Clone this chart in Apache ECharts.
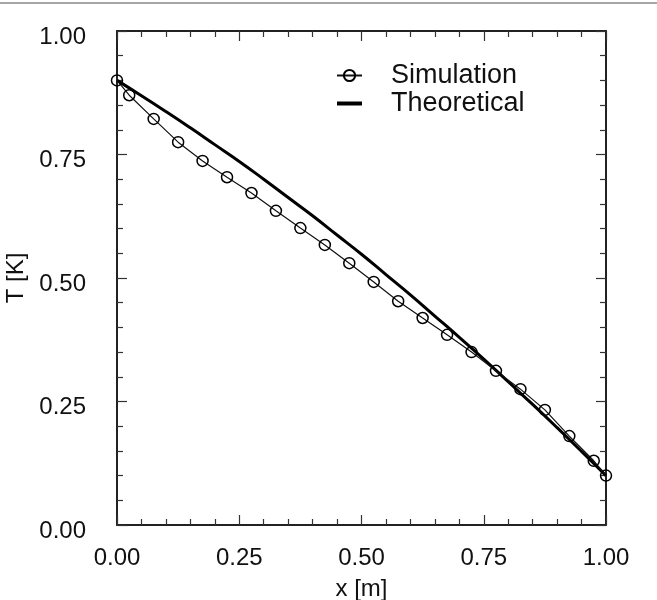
<!DOCTYPE html>
<html>
<head>
<meta charset="utf-8">
<script src="https://cdn.jsdelivr.net/npm/echarts@6/dist/echarts.min.js"></script>
<style>
html, body { margin: 0; padding: 0; background: #fff; }
#chart { width: 657px; height: 600px; }
</style>
</head>
<body>
<div id="chart"></div>
<script>
var myChart = echarts.init(document.getElementById("chart"));

// simulation points
var simX = [0, 0.025, 0.075, 0.125, 0.175, 0.225, 0.275, 0.325, 0.375, 0.425, 0.475,
    0.525, 0.575, 0.625, 0.675, 0.725, 0.775, 0.825, 0.875, 0.925, 0.975, 1];
var simT = [0.900, 0.870, 0.822, 0.775, 0.737, 0.704, 0.672, 0.636, 0.601, 0.567, 0.530,
    0.492, 0.453, 0.419, 0.385, 0.350, 0.312, 0.275, 0.233, 0.180, 0.130, 0.100];

// theoretical curve
var theoX = [0, 0.05, 0.1, 0.15, 0.2, 0.25, 0.3, 0.35, 0.4, 0.45, 0.5,
    0.55, 0.6, 0.65, 0.7, 0.75, 0.8, 0.85, 0.9, 0.95, 1];
var theoT = [0.900, 0.869, 0.837, 0.804, 0.770, 0.736, 0.700, 0.663, 0.626, 0.587, 0.548,
    0.507, 0.466, 0.423, 0.380, 0.336, 0.290, 0.244, 0.197, 0.149, 0.100];

var font = "Arial, 'Liberation Sans', sans-serif";

function pairs(xs, ys) {
    return xs.map(function (x, i) { return [x, ys[i]]; });
}

function axis(extra) {
    var base = {
        type: 'value',
        min: 0,
        max: 1,
        interval: 0.25,
        axisLine: { show: true, onZero: false, lineStyle: { color: '#222', width: 2 } },
        axisTick: { show: true, inside: true, length: 10, lineStyle: { color: '#333', width: 1.2 } },
        minorTick: { show: true, splitNumber: 5, length: 6, lineStyle: { color: '#333', width: 1.2 } },
        splitLine: { show: false },
        axisLabel: {
            show: true,
            fontFamily: font,
            fontSize: 24,
            color: '#111',
            formatter: function (v) { return v.toFixed(2); }
        }
    };
    return Object.assign(base, extra);
}

var option = {
    backgroundColor: '#fff',
    animation: false,
    graphic: [{
        type: 'line',
        shape: { x1: 0, y1: 3, x2: 657, y2: 3 },
        style: { stroke: '#888', lineWidth: 1.5 }
    }],
    grid: { left: 117, right: 51, top: 31, bottom: 75, containLabel: false, outerBoundsMode: 'none' },
    legend: {
        orient: 'vertical',
        left: 336,
        top: 62,
        padding: 0,
        itemWidth: 25,
        itemHeight: 14,
        itemGap: 1,
        textStyle: { fontFamily: font, fontSize: 27, color: '#111', padding: [0, 0, 0, 24] },
        data: [
            { name: 'Simulation' },
            // flat bar icon: moveTo points keep the 25x14 box so the bar stays 4px thick
            { name: 'Theoretical', icon: 'path://M0,0M25,14M0,5L25,5L25,9L0,9Z' }
        ]
    },
    xAxis: [
        axis({
            position: 'bottom',
            name: 'x [m]',
            nameLocation: 'middle',
            nameGap: 52,
            nameTextStyle: { fontFamily: font, fontSize: 24, color: '#111' },
            axisLabel: {
                show: true, fontFamily: font, fontSize: 24, color: '#111', margin: 21,
                formatter: function (v) { return v.toFixed(2); }
            }
        }),
        axis({ position: 'top', axisLabel: { show: false } })
    ],
    yAxis: [
        axis({
            position: 'left',
            name: 'T [K]',
            nameLocation: 'middle',
            nameRotate: 90,
            nameGap: 84,
            nameTextStyle: { fontFamily: font, fontSize: 24, color: '#111' },
            axisLabel: {
                show: true, fontFamily: font, fontSize: 24, color: '#111', margin: 31,
                // labels sit a little below their ticks in the reference
                verticalAlign: 'top',
                lineHeight: 12,
                formatter: function (v) { return v.toFixed(2); }
            }
        }),
        axis({ position: 'right', axisLabel: { show: false } })
    ],
    series: [
        {
            name: 'Theoretical',
            type: 'line',
            data: pairs(theoX, theoT),
            symbol: 'none',
            smooth: true,
            lineStyle: { color: '#000', width: 3 },
            itemStyle: { color: '#000' },
            z: 2
        },
        {
            name: 'Simulation',
            type: 'line',
            data: pairs(simX, simT),
            symbol: 'circle',
            symbolSize: 11,
            lineStyle: { color: '#111', width: 1.2 },
            itemStyle: { color: 'rgba(255,255,255,0)', borderColor: '#000', borderWidth: 1.5 },
            z: 3
        }
    ]
};

myChart.setOption(option);
</script>
</body>
</html>
